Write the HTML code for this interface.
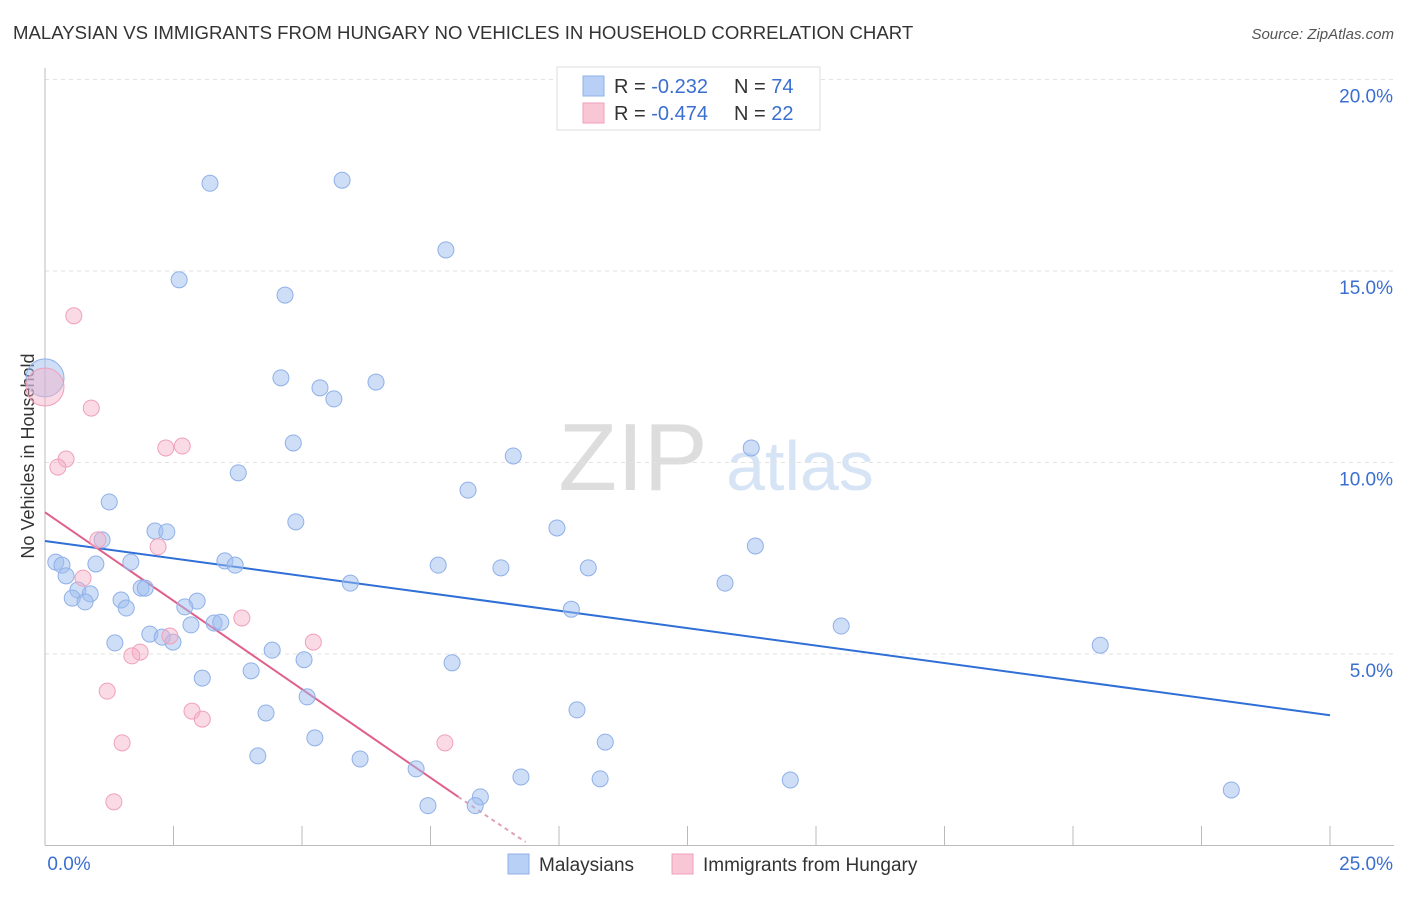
<!DOCTYPE html>
<html><head><meta charset="utf-8"><style>
body{margin:0;background:#fff;font-family:"Liberation Sans",sans-serif;}
svg text{font-family:"Liberation Sans",sans-serif;}
</style></head><body>
<svg id="chart" width="1406" height="892" xmlns="http://www.w3.org/2000/svg">
<text x="13" y="39" font-size="18.6" fill="#333">MALAYSIAN VS IMMIGRANTS FROM HUNGARY NO VEHICLES IN HOUSEHOLD CORRELATION CHART</text>
<text x="1394" y="39" font-size="15" fill="#555" text-anchor="end" font-style="italic">Source: ZipAtlas.com</text>
<text transform="translate(34,456) rotate(-90)" font-size="18" fill="#333" text-anchor="middle">No Vehicles in Household</text>
<g>
<text x="633" y="490" font-size="96" fill="#ddd" text-anchor="middle" font-family="Liberation Serif,serif">ZIP</text>
<text x="800" y="490" font-size="70" fill="#d6e4f5" text-anchor="middle">atlas</text>
</g>
<g id="grid"></g><g id="axes"></g><g id="lines"></g><g id="pts"></g>
<g>
<rect x="557" y="67" width="263" height="63" fill="#fff" stroke="#ddd"/>
<rect x="583" y="76" width="21" height="20" fill="#b8d0f5" stroke="#8fb0e8"/>
<rect x="583" y="103" width="21" height="20" fill="#f9c6d5" stroke="#f0a0ba"/>
<text x="614" y="93" font-size="20" fill="#333">R = <tspan fill="#3a6fd0">-0.232</tspan></text>
<text x="734" y="93" font-size="20" fill="#333">N = <tspan fill="#3a6fd0">74</tspan></text>
<text x="614" y="120" font-size="20" fill="#333">R = <tspan fill="#3a6fd0">-0.474</tspan></text>
<text x="734" y="120" font-size="20" fill="#333">N = <tspan fill="#3a6fd0">22</tspan></text>
</g>
<g>
<rect x="508" y="854" width="21" height="20" fill="#b8d0f5" stroke="#8fb0e8"/>
<text x="539" y="871" font-size="19" fill="#333">Malaysians</text>
<rect x="672" y="854" width="21" height="20" fill="#f9c6d5" stroke="#f0a0ba"/>
<text x="703" y="871" font-size="19" fill="#333">Immigrants from Hungary</text>
</g>
</svg>
<script>
const yTicks=[5,10,15,20];
const yTickLabels=["5.0%","10.0%","15.0%","20.0%"];
const xTickLabels=["0.0%","25.0%"];
const blueX=[3.21,5.78,7.80,2.61,4.67,4.59,5.35,5.62,6.44,4.83,3.76,9.11,8.23,13.74,1.25,4.88,9.96,2.14,2.37,1.11,13.82,0.21,0.33,0.99,1.67,3.50,3.70,7.65,8.87,10.57,0.41,5.94,13.23,0.64,1.87,1.95,0.88,0.53,0.78,1.48,1.58,2.96,2.72,10.24,2.84,3.29,3.42,15.49,2.04,2.28,2.49,1.36,4.42,20.53,5.04,7.92,4.01,3.06,5.10,4.30,10.35,5.25,10.90,4.14,6.13,7.22,9.26,10.80,14.50,23.08,8.47,7.45,8.37];
const blueY=[17.29,17.37,15.55,14.77,14.37,12.21,11.95,11.66,12.10,10.51,9.73,10.17,9.28,10.38,8.97,8.45,8.29,8.21,8.19,7.98,7.82,7.40,7.32,7.35,7.40,7.43,7.32,7.32,7.25,7.25,7.04,6.85,6.85,6.67,6.72,6.72,6.57,6.46,6.36,6.41,6.20,6.38,6.23,6.17,5.76,5.81,5.83,5.73,5.52,5.44,5.31,5.29,5.10,5.23,4.85,4.77,4.56,4.37,3.88,3.46,3.54,2.81,2.70,2.34,2.26,2.00,1.79,1.74,1.71,1.45,1.27,1.04,1.04];
const pinkX=[0.56,0.90,2.35,2.67,0.41,0.25,1.03,2.20,0.74,3.83,2.43,5.22,1.85,1.69,1.21,2.86,3.06,1.50,7.78,1.34];
const pinkY=[13.83,11.42,10.38,10.43,10.09,9.88,7.98,7.80,6.98,5.94,5.47,5.31,5.05,4.95,4.03,3.51,3.30,2.68,2.68,1.14];
const bigBlue=[0,12.21], bigPink=[0,11.97];
const blueTrend=[[0,7.95],[25,3.4]];
const pinkTrend=[[0,8.7],[8.04,1.27]];
const pinkTrendDash=[[8.04,1.27],[9.35,0.09]];
const X=v=>45+v*1285/25, Y=v=>845.5-v*38.3;
const NS="http://www.w3.org/2000/svg";
function mk(parent,tag,attrs){const e=document.createElementNS(NS,tag);for(const k in attrs)e.setAttribute(k,attrs[k]);document.getElementById(parent).appendChild(e);return e;}
yTicks.forEach((t,i)=>{
 const g=mk('grid','line',{x1:45,x2:1394,y1:Y(t),y2:Y(t),stroke:'#e2e2e2','stroke-dasharray':'4,4'});
 
 
 const l=mk('axes','text',{x:1393,y:Y(t)+23,'font-size':19,fill:'#3a6fd0','text-anchor':'end'});l.textContent=yTickLabels[i];
 
 
});
const topGrid=mk('grid','line',{x1:45,x2:1394,y1:79.5,y2:79.5,stroke:'#e2e2e2','stroke-dasharray':'4,4'});


const ax=mk('axes','line',{x1:45,x2:1394,y1:845.5,y2:845.5,stroke:'#bbb'});


const ay=mk('axes','line',{x1:45,x2:45,y1:68,y2:845.5,stroke:'#bbb'});


for(let i=1;i<=10;i++){const t=mk('axes','line',{x1:X(i*2.5),x2:X(i*2.5),y1:826,y2:845.5,stroke:'#bbb'});
 
 }
[[0,X(0)+24],[1,1393]].forEach(([i,x])=>{const l=mk('axes','text',{x:x,y:870,'font-size':19,fill:'#3a6fd0','text-anchor':i?'end':'middle'});l.textContent=xTickLabels[i];
 
 });
function line(p,col,dash,name){const l=mk('lines','line',{x1:X(p[0][0]),y1:Y(p[0][1]),x2:X(p[1][0]),y2:Y(p[1][1]),stroke:col,'stroke-width':2});if(dash)l.setAttribute('stroke-dasharray','4,4');
 
 }
function pt(x,y,r,fill,stroke,name){const c=mk('pts','circle',{cx:X(x),cy:Y(y),r:r,fill:fill,stroke:stroke,'stroke-width':1});
 
 }
pt(bigBlue[0],bigBlue[1],19,'rgba(160,190,240,0.5)','#8fb0e8','point-malaysian');
pt(bigPink[0],bigPink[1],19,'rgba(245,175,198,0.45)','#f0a0ba','point-hungary');
blueX.forEach((x,i)=>pt(x,blueY[i],8,'rgba(160,190,240,0.5)','#8fb0e8','point-malaysian'));
pinkX.forEach((x,i)=>pt(x,pinkY[i],8,'rgba(245,175,198,0.45)','#f0a0ba','point-hungary'));
line(blueTrend,'#2f6fd6',false,'trend-line-malaysians');
line(pinkTrend,'#e0608a',false,'trend-line-hungary');
line(pinkTrendDash,'#e0a0b6',true,'trend-line-hungary-extension');
</script>
</body></html>
